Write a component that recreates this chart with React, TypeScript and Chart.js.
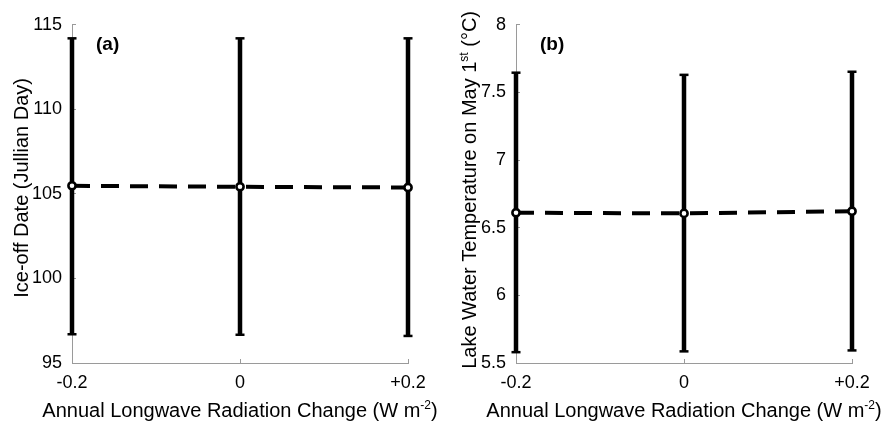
import React, { useEffect, useRef } from "react";
import { Chart, registerables } from "chart.js";

Chart.register(...registerables);

// Longwave radiation change scenarios (W m-2)
const xValues = [-0.2, 0, 0.2];
const xLabels = ["-0.2", "0", "+0.2"];

// Panel (a): ice-off date (Julian day)
const iceOffMean = [105.48, 105.42, 105.38];
const iceOffLow = [96.7, 96.67, 96.6];
const iceOffHigh = [114.2, 114.2, 114.2];
const iceOffTicks = [95, 100, 105, 110, 115];

// Panel (b): lake water temperature on May 1st (°C)
const lakeTempMean = [6.611, 6.606, 6.622];
const lakeTempLow = [5.58, 5.586, 5.593];
const lakeTempHigh = [7.646, 7.63, 7.653];
const lakeTempTicks = [5.5, 6, 6.5, 7, 7.5, 8];

// Axis titles as runs of normal / superscript text
type Run = { text: string; sup?: boolean };
const xTitleRuns: Run[] = [
  { text: "Annual Longwave Radiation Change (W m" },
  { text: "-2", sup: true },
  { text: ")" },
];
const iceOffTitleRuns: Run[] = [{ text: "Ice-off Date (Jullian Day)" }];
const lakeTempTitleRuns: Run[] = [
  { text: "Lake Water Temperature on May 1" },
  { text: "st", sup: true },
  { text: " (°C)" },
];

const FONT = "'Liberation Sans', Arial, Helvetica, sans-serif";
const AXIS_GREY = "#9a9a9a";
const H = 428;
const TITLE_SIZE = 20;
const SUP_SIZE = 12;

function drawRuns(ctx: CanvasRenderingContext2D, runs: Run[], cx: number, cy: number, rotate: boolean) {
  ctx.save();
  ctx.translate(cx, cy);
  if (rotate) ctx.rotate(-Math.PI / 2);
  ctx.fillStyle = "#000";
  ctx.textBaseline = "alphabetic";
  ctx.textAlign = "left";
  const fontFor = (r: Run) => `${r.sup ? SUP_SIZE : TITLE_SIZE}px ${FONT}`;
  let total = 0;
  const widths = runs.map((r) => {
    ctx.font = fontFor(r);
    const w = ctx.measureText(r.text).width;
    total += w;
    return w;
  });
  let x = -total / 2;
  const base = TITLE_SIZE * 0.36;
  runs.forEach((r, i) => {
    ctx.font = fontFor(r);
    ctx.fillText(r.text, x, r.sup ? base - 8 : base);
    x += widths[i];
  });
  ctx.restore();
}

const panelText = {
  id: "panelText",
  afterDraw(chart: any, _args: any, opts: any) {
    const { ctx, chartArea } = chart;
    const midX = (chartArea.left + chartArea.right) / 2;
    const midY = (chartArea.top + chartArea.bottom) / 2;
    drawRuns(ctx, xTitleRuns, midX, 410, false);
    drawRuns(ctx, opts.yRuns, opts.yTitleX, midY + opts.yTitleDy, true);
    ctx.save();
    ctx.font = `bold 19px ${FONT}`;
    ctx.fillStyle = "#000";
    ctx.textBaseline = "middle";
    ctx.textAlign = "left";
    ctx.fillText(opts.tag, chartArea.left + 24, chartArea.top + 20);
    ctx.restore();
  },
};

type PanelProps = {
  left: number;
  width: number;
  areaLeft: number;
  areaRight: number;
  tag: string;
  yRuns: Run[];
  yTitleX: number;
  yTitleDy: number;
  mean: number[];
  low: number[];
  high: number[];
  yTicks: number[];
};

function Panel(p: PanelProps) {
  const ref = useRef<HTMLCanvasElement>(null);

  useEffect(() => {
    if (!ref.current) return;
    const errorBars = xValues.map((x, i) => ({
      data: [
        { x, y: p.low[i] },
        { x, y: p.high[i] },
      ],
      showLine: true,
      borderColor: "#000",
      borderWidth: 4.5,
      pointStyle: "line",
      pointRadius: 4.5,
      pointBorderWidth: 2.5,
      pointBorderColor: "#000",
      clip: false,
      order: 2,
    }));
    const meanLine = {
      data: xValues.map((x, i) => ({ x, y: p.mean[i] })),
      showLine: true,
      borderColor: "#000",
      borderWidth: 4,
      borderDash: [18, 11],
      pointStyle: "circle",
      pointRadius: 3.6,
      pointBorderWidth: 2.6,
      pointBorderColor: "#000",
      pointBackgroundColor: "#fff",
      clip: false,
      order: 1,
    };

    const yMin = p.yTicks[0];
    const yMax = p.yTicks[p.yTicks.length - 1];

    const chart = new Chart(ref.current, {
      type: "scatter",
      data: { datasets: [...errorBars, meanLine] as any },
      plugins: [panelText],
      options: {
        responsive: false,
        animation: false,
        layout: {
          padding: { left: 0, right: p.width - p.areaRight, top: 15, bottom: 0 },
        },
        plugins: {
          legend: { display: false },
          tooltip: { enabled: false },
          panelText: { tag: p.tag, yRuns: p.yRuns, yTitleX: p.yTitleX, yTitleDy: p.yTitleDy },
        } as any,
        scales: {
          x: {
            type: "linear",
            min: xValues[0],
            max: xValues[xValues.length - 1],
            afterBuildTicks(scale: any) {
              scale.ticks = xValues.map((v) => ({ value: v }));
            },
            afterFit(scale: any) {
              scale.height = H - 363;
            },
            ticks: {
              autoSkip: false,
              maxRotation: 0,
              padding: 13,
              color: "#000",
              font: { family: FONT, size: 18 },
              callback: (_v: any, i: number) => xLabels[i],
            },
            grid: {
              drawOnChartArea: false,
              drawTicks: true,
              tickLength: -4,
              color: AXIS_GREY,
            },
            border: { color: AXIS_GREY, width: 1 },
          },
          y: {
            type: "linear",
            min: yMin,
            max: yMax,
            afterBuildTicks(scale: any) {
              scale.ticks = p.yTicks.map((v) => ({ value: v }));
            },
            afterFit(scale: any) {
              scale.width = p.areaLeft;
            },
            ticks: {
              padding: 14,
              color: "#000",
              font: { family: FONT, size: 18 },
              callback: (v: any) => String(v),
            },
            grid: {
              drawOnChartArea: false,
              drawTicks: true,
              tickLength: -4,
              color: AXIS_GREY,
            },
            border: { color: AXIS_GREY, width: 1 },
          },
        },
      } as any,
    });
    return () => chart.destroy();
  }, []);

  return (
    <div style={{ position: "absolute", left: p.left, top: 0, width: p.width, height: H }}>
      <canvas ref={ref} width={p.width} height={H} style={{ width: p.width, height: H, display: "block" }} />
    </div>
  );
}

export default function App() {
  return (
    <div style={{ position: "absolute", left: 0, top: 0, width: 885, height: H, background: "#fff" }}>
      <Panel
        left={0}
        width={440}
        areaLeft={72}
        areaRight={408}
        tag="(a)"
        yRuns={iceOffTitleRuns}
        yTitleX={21}
        yTitleDy={-6}
        mean={iceOffMean}
        low={iceOffLow}
        high={iceOffHigh}
        yTicks={iceOffTicks}
      />
      <Panel
        left={440}
        width={445}
        areaLeft={76}
        areaRight={412}
        tag="(b)"
        yRuns={lakeTempTitleRuns}
        yTitleX={29}
        yTitleDy={-4}
        mean={lakeTempMean}
        low={lakeTempLow}
        high={lakeTempHigh}
        yTicks={lakeTempTicks}
      />
    </div>
  );
}
